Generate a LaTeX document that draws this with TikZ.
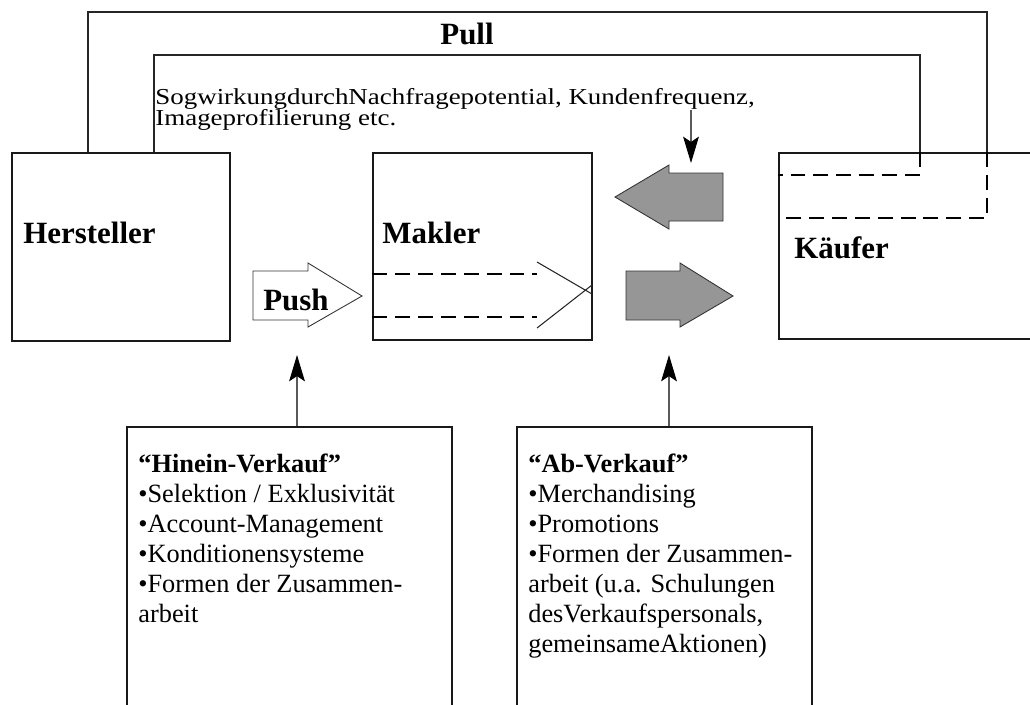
\documentclass[tikz,border=0pt]{standalone}
\usepackage{fontspec}
\setmainfont{Liberation Serif}
\usetikzlibrary{arrows.meta,fit,positioning}
\definecolor{flowgray}{RGB}{150,150,150}
\tikzset{every node/.append style={inner sep=0pt}}

\begin{document}
\begin{tikzpicture}[x=0.02cm,y=-0.02cm,
  box/.style={draw=black!90, line width=0.6pt, inner sep=0pt},
  line/.style={black!85, line width=0.6pt},
  dashline/.style={line width=1.2pt, dash pattern=on 8.5pt off 4.5pt},
  title/.style={anchor=base west, font=\fontsize{17.6}{20}\selectfont\bfseries},
  note/.style={anchor=base west, font=\fontsize{13}{14}\selectfont},
  list/.style={anchor=base west, align=left, font=\fontsize{15}{17}\selectfont},
  blockarrow/.style={draw=black!80, line width=0.5pt, line join=miter},
  pointer/.style={black!65, line width=0.6pt, -{Stealth[length=15pt,width=9pt,inset=3pt,color=black]}}]
  \useasboundingbox (0,0) rectangle (1030,704);
  \clip (0,0) rectangle (1030,704);

  % the three parties
  \node[box, fit={(12,153) (230,341)}] (herst) {};
  \node[box, fit={(373,153) (592,340)}] (makler) {};
  \node[box, fit={(779,153) (1045,339)}] (kauf) {};
  \node[title] (herstlabel) at (23,243) {Hersteller};
  \node[title] (maklerlabel) at (382,243) {Makler};
  \node[title] (kauflabel) at (794,258) {Käufer};

  % pull loops
  \coordinate (outa) at (88,12);
  \coordinate (outb) at (987,12);
  \coordinate (outc) at (987,218);
  \coordinate (ina) at (154,55);
  \coordinate (inb) at (920,55);
  \coordinate (inc) at (920,175);
  \draw[line] (herst.north -| outa) -- (outa) -- (outb) -- (kauf.north -| outb);
  \draw[line] (herst.north -| ina) -- (ina) -- (inb) -- (kauf.north -| inb);
  \draw[dashline] (kauf.north -| outb) -- (outc) -- (kauf.west |- outc);
  \draw[dashline] (kauf.north -| inb) -- (inc) -- (kauf.west |- inc);
  \node[title] (pull) at (440,44) {Pull};
  \node[note] (sog1) at (155,104) {\scalebox{1.18}[1]{SogwirkungdurchNachfragepotential, Kundenfrequenz,}};
  \node[note] (sog2) at (155,125) {\scalebox{1.18}[1]{Imageprofilierung etc.}};

  % push arrow and the ghost arrow in the broker box
  \draw[blockarrow, fill=white] (253,271) -- (308,271) -- (308,263) -- (362,296)
    -- (308,327) -- (308,320) -- (253,320) -- cycle;
  \node[title] (push) at (263,310) {Push};
  \draw[dashline] (makler.west |- 0,274) -- (537,274);
  \draw[dashline] (makler.west |- 0,317) -- (537,317);
  \draw[line] (537,262) -- (592,294);
  \draw[line] (537,328) -- (592,285);

  % grey flows between broker and buyer
  \draw[blockarrow, fill=flowgray] (723,173) -- (669,173) -- (669,165) -- (615,197)
    -- (669,229) -- (669,221) -- (723,221) -- cycle;
  \draw[blockarrow, fill=flowgray] (626,271) -- (680,271) -- (680,263) -- (733,296)
    -- (680,327) -- (680,320) -- (626,320) -- cycle;

  % measures (base anchor sits on the last line)
  \node[box, fit={(127,427) (452,720)}] (hinein) {};
  \node[box, fit={(517,427) (812,720)}] (ab) {};
  \node[list] (hineintext) at (138,622) {\textbf{“Hinein-Verkauf”}\\
    •Selektion / Exklusivität\\
    •Account-Management\\
    •Konditionensysteme\\
    •Formen der Zusammen-\\
    arbeit};
  \node[list] (abtext) at (528,652) {\textbf{“Ab-Verkauf”}\\
    •Merchandising\\
    •Promotions\\
    •Formen der Zusammen-\\
    arbeit (u.a. Schulungen\\
    desVerkaufspersonals,\\
    gemeinsameAktionen)};

  \coordinate (pushtip) at (297,355);
  \coordinate (abtip) at (669,355);
  \coordinate (sogfoot) at (691,110);
  \coordinate (sogtip) at (691,163);
  \draw[pointer] (hinein.north -| pushtip) -- (pushtip);
  \draw[pointer] (ab.north -| abtip) -- (abtip);
  \draw[pointer] (sogfoot) -- (sogtip);
\end{tikzpicture}
\end{document}
